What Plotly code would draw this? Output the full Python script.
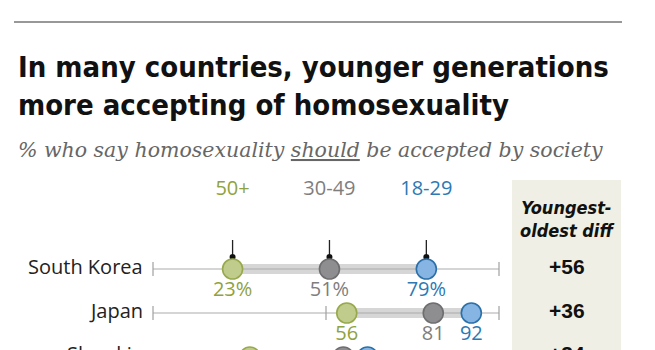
import plotly.graph_objects as go

countries = ["South Korea", "Japan", "Slovakia"]
age_50_plus = [23, 56, 28]
age_30_49 = [51, 81, 55]
age_18_29 = [79, 92, 62]
group_names = ["50+", "30-49", "18-29"]
axis_ticks = [0, 50, 100]

W, H = 655, 350
PX0, PX100 = 153, 499          # pixel positions of 0 and 100
ROW0, ROWSTEP = 269, 44.0      # pixel y of first row, spacing
scale = (PX100 - PX0) / 100.0
xr = [-PX0 / scale, (W - PX0) / scale]
yr = [(H - ROW0) / ROWSTEP, -ROW0 / ROWSTEP]


def py(pix):
    return 1 - pix / H


def row_pix(i):
    return ROW0 + ROWSTEP * i


def unit(pix_off):
    return pix_off / ROWSTEP


GREEN_T, GREEN_F, GREEN_L = "#8FA23E", "#C0CC8B", "#97A94C"
GRAY_T, GRAY_F, GRAY_L = "#7E7E7E", "#8E8E90", "#6E6E70"
BLUE_T, BLUE_F, BLUE_L = "#2C79B3", "#86B4E3", "#2B70A9"
FONT = "Open Sans"
COND = "DejaVu Sans Condensed"

fig = go.Figure()
rows = list(range(len(countries)))

# axis lines
for i in rows:
    fig.add_trace(go.Scatter(x=[axis_ticks[0], axis_ticks[-1]], y=[i, i], mode="lines",
                             line=dict(color="#ABABAB", width=1.2), hoverinfo="skip", showlegend=False))
# band between oldest and youngest
for i in rows:
    fig.add_trace(go.Scatter(x=[age_50_plus[i], age_18_29[i]], y=[i, i], mode="lines",
                             line=dict(color="#D6D6D6", width=10), hoverinfo="skip", showlegend=False))
    fig.add_trace(go.Scatter(x=[age_50_plus[i], age_18_29[i]], y=[i, i], mode="lines",
                             line=dict(color="#B8B8B8", width=1.6), hoverinfo="skip", showlegend=False))
# end ticks
tx, ty = [], []
for i in rows:
    for t in axis_ticks:
        tx.append(t); ty.append(i)
fig.add_trace(go.Scatter(x=tx, y=ty, mode="markers",
                         marker=dict(symbol="line-ns-open", size=10, color="#A0A0A0",
                                     line=dict(color="#A0A0A0", width=1.2)),
                         hoverinfo="skip", showlegend=False))

# callouts for first row
for vals in (age_50_plus, age_30_49, age_18_29):
    fig.add_trace(go.Scatter(x=[vals[0], vals[0]], y=[unit(-29), unit(-12)], mode="lines",
                             line=dict(color="#222", width=1.3), hoverinfo="skip", showlegend=False))
    fig.add_trace(go.Scatter(x=[vals[0]], y=[unit(-12)], mode="markers",
                             marker=dict(color="#111", size=6), hoverinfo="skip", showlegend=False))

# dots
series = [(age_50_plus, GREEN_F, GREEN_L, GREEN_T),
          (age_30_49, GRAY_F, GRAY_L, GRAY_T),
          (age_18_29, BLUE_F, BLUE_L, BLUE_T)]
for k, (vals, fc, lc, tc) in enumerate(series):
    fig.add_trace(go.Scatter(x=vals, y=rows, mode="markers",
                             marker=dict(color=fc, size=20, line=dict(color=lc, width=1.6)),
                             hoverinfo="skip", showlegend=False, cliponaxis=True))
    labels = [f"{v}%" if i == 0 else f"{v}" for i, v in enumerate(vals)]
    fig.add_trace(go.Scatter(x=vals, y=[r + unit(22) for r in rows], mode="text", text=labels,
                             textfont=dict(family=FONT, size=20, color=tc),
                             hoverinfo="skip", showlegend=False))
    # group header
    fig.add_trace(go.Scatter(x=[vals[0]], y=[unit(-79)], mode="text", text=[group_names[k]],
                             textfont=dict(family=FONT, size=20, color=tc),
                             hoverinfo="skip", showlegend=False))

# country labels
for i, c in enumerate(countries):
    fig.add_annotation(xref="paper", yref="paper", x=145 / W, y=py(row_pix(i) - 3), text=c,
                       xanchor="right", yanchor="middle", showarrow=False,
                       font=dict(family=FONT, size=20, color="#222"))

# diff column
fig.add_shape(type="rect", xref="paper", yref="paper", x0=512 / W, x1=621 / W,
              y0=-0.1, y1=py(180), fillcolor="#EFEFE5", line=dict(width=0), layer="below")
fig.add_annotation(xref="paper", yref="paper", x=567 / W, y=py(219),
                   text="<b><i>Youngest-<br>oldest diff</i></b>", showarrow=False,
                   font=dict(family=COND, size=18, color="#111"),
                   xanchor="center", yanchor="middle")
for i in rows:
    d = age_18_29[i] - age_50_plus[i]
    fig.add_annotation(xref="paper", yref="paper", x=567 / W, y=py(row_pix(i) - 3),
                       text=f"<b>+{d}</b>", showarrow=False,
                       font=dict(family="Liberation Sans", size=21, color="#111"),
                       xanchor="center", yanchor="middle")

# header
fig.add_shape(type="line", xref="paper", yref="paper", x0=14 / W, x1=622 / W,
              y0=py(22), y1=py(22), line=dict(color="#333", width=1.2))
fig.add_annotation(xref="paper", yref="paper", x=16 / W, y=py(86),
                   text="<b>In many countries, younger generations<br>more accepting of homosexuality</b>",
                   showarrow=False, xanchor="left", yanchor="middle", align="left",
                   font=dict(family=COND, size=29, color="#111"))
fig.add_annotation(xref="paper", yref="paper", x=16 / W, y=py(150),
                   text="<i>% who say homosexuality <u>should</u> be accepted by society</i>",
                   showarrow=False, xanchor="left", yanchor="middle",
                   font=dict(family="DejaVu Serif", size=20.5, color="#666"))

fig.update_layout(width=W, height=H, margin=dict(l=0, r=0, t=0, b=0),
                  paper_bgcolor="white", plot_bgcolor="white",
                  xaxis=dict(range=xr, visible=False, domain=[0, 1]),
                  yaxis=dict(range=yr, visible=False, domain=[0, 1]))
fig.write_html("out.html")
